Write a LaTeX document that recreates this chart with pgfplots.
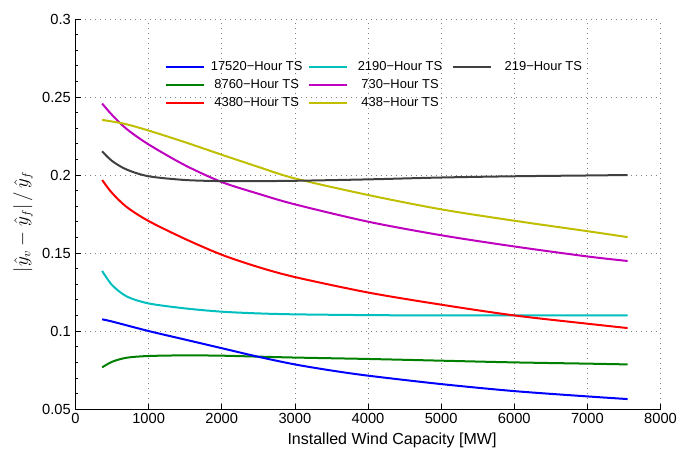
\documentclass[border=0pt]{standalone}
\usepackage{fontspec}
\setmainfont{Liberation Sans}
\usepackage{pgfplots}
\pgfplotsset{compat=1.18}
\definecolor{cB}{rgb}{0,0,1}
\definecolor{cG}{rgb}{0,0.5,0}
\definecolor{cR}{rgb}{1,0,0}
\definecolor{cC}{rgb}{0,0.75,0.75}
\definecolor{cM}{rgb}{0.75,0,0.75}
\definecolor{cY}{rgb}{0.75,0.75,0}
\definecolor{cK}{rgb}{0.25,0.25,0.25}
\begin{document}
\begin{tikzpicture}
\begin{axis}[
 scale only axis, width=438.75pt, height=292.5pt,
 xmin=0, xmax=8000, ymin=0.05, ymax=0.3,
 axis x line*=bottom, axis y line*=left,
 axis line style={line width=0.6pt, -},
 xtick={0,1000,2000,3000,4000,5000,6000,7000,8000},
 xticklabels={0,1000,2000,3000,4000,5000,6000,7000,8000},
 ytick={0.05,0.1,0.15,0.2,0.25,0.3},
 yticklabels={0.05,0.1,0.15,0.2,0.25,0.3},
 minor y tick num=4,
 tick align=inside, major tick length=4pt, minor tick length=2pt,
 tick style={black, line width=0.5pt},
 ticklabel style={font=\fontsize{11}{13}\selectfont},
 grid=major, grid style={gray, dash pattern=on 0.75pt off 3pt, line width=0.5pt},
 xlabel={Installed Wind Capacity [MW]},
 xlabel style={font=\fontsize{12}{14}\selectfont, at={(axis description cs:0.541,0)}, anchor=center, yshift=-23.5pt},
 ylabel={$|\hat{y}_v-\hat{y}_f|\,/\,\hat{y}_f$},
 ylabel style={font=\fontsize{13.5}{16}\selectfont, at={(axis description cs:-0.0898,0.48)}, anchor=center},
 legend columns=3,
 legend style={at={(axis description cs:0.153,0.897)}, anchor=north west, draw=none, fill=none, inner sep=0pt, outer sep=0pt, column sep=0pt, row sep=1.5pt, font=\fontsize{9.7}{11}\selectfont, nodes={inner sep=1.5pt, text height=7pt, text depth=2pt}},
 legend image code/.code={\draw[#1, line width=1.5pt] (0pt,0pt) -- (28.5pt,0pt);},
 every axis plot/.append style={line width=1.5pt, smooth, tension=0.5},
]
% 8760-Hour TS
\addplot[cG, forget plot] coordinates {(365,0.0767) (500,0.0803) (700,0.0829) (1000,0.0840) (1500,0.0844) (2000,0.0842) (2500,0.0836) (3000,0.0830) (4000,0.0821) (5000,0.0810) (6000,0.0799) (7000,0.0791) (7550,0.0786)};
% 17520-Hour TS
\addplot[cB, forget plot] coordinates {(365,0.1075) (500,0.1061) (1000,0.1000) (1500,0.0945) (2000,0.0890) (2500,0.0835) (3000,0.0786) (3500,0.0747) (4000,0.0714) (5000,0.0660) (6000,0.0615) (7000,0.0581) (7550,0.0564)};
% 2190-Hour TS
\addplot[cC, forget plot] coordinates {(365,0.1385) (500,0.1295) (700,0.1222) (1000,0.1177) (1500,0.1145) (2000,0.1124) (2500,0.1113) (3000,0.1107) (4000,0.1102) (5000,0.1100) (6000,0.1100) (7550,0.1100)};
% 4380-Hour TS
\addplot[cR, forget plot] coordinates {(365,0.1968) (500,0.1885) (700,0.1795) (1000,0.1705) (1500,0.1590) (2000,0.1489) (2500,0.1410) (3000,0.1346) (4000,0.1247) (5000,0.1169) (6000,0.1100) (7000,0.1047) (7550,0.1019)};
% 730-Hour TS
\addplot[cM, forget plot] coordinates {(365,0.2458) (500,0.2385) (700,0.2295) (1000,0.2196) (1500,0.2062) (2000,0.1955) (2500,0.1880) (3000,0.1812) (4000,0.1701) (5000,0.1614) (6000,0.1542) (7000,0.1478) (7550,0.1449)};
% 438-Hour TS
\addplot[cY, forget plot] coordinates {(365,0.2353) (500,0.2343) (700,0.2325) (1000,0.2285) (1500,0.2210) (2000,0.2130) (2500,0.2052) (3000,0.1978) (4000,0.1872) (5000,0.1780) (6000,0.1707) (7000,0.1640) (7550,0.1602)};
% 219-Hour TS
\addplot[cK, forget plot] coordinates {(365,0.2152) (500,0.2090) (700,0.2035) (1000,0.1992) (1500,0.1968) (2000,0.1961) (2500,0.1961) (3000,0.1963) (4000,0.1972) (5000,0.1984) (6000,0.1992) (7000,0.1997) (7550,0.2000)};
% legend, filled row by row
\addlegendimage{cB}\addlegendentry{\makebox[74.5pt][c]{17520−Hour TS}}
\addlegendimage{cC}\addlegendentry{\makebox[74.5pt][c]{2190−Hour TS}}
\addlegendimage{cK}\addlegendentry{\makebox[74.5pt][c]{219−Hour TS}}
\addlegendimage{cG}\addlegendentry{\makebox[74.5pt][c]{8760−Hour TS}}
\addlegendimage{cM}\addlegendentry{\makebox[74.5pt][c]{730−Hour TS}}
\addlegendimage{empty legend}\addlegendentry{}
\addlegendimage{cR}\addlegendentry{\makebox[74.5pt][c]{4380−Hour TS}}
\addlegendimage{cY}\addlegendentry{\makebox[74.5pt][c]{438−Hour TS}}
\end{axis}
\pgfresetboundingbox
\path[use as bounding box] ([xshift=-56.6pt,yshift=-30pt]current axis.south west) rectangle ([xshift=19.1pt,yshift=14.25pt]current axis.north east);
\end{tikzpicture}
\end{document}
